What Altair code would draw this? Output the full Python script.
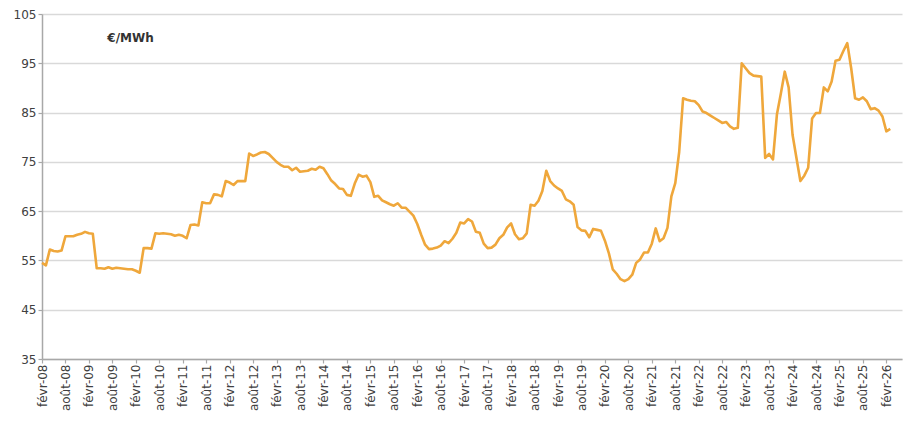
import altair as alt
import pandas as pd

# Monthly prices (€/MWh), from févr-08 to mars-26
p2008 = [54.5, 54.0, 57.2, 56.9, 56.8, 57.0, 59.9, 59.9, 59.9, 60.2, 60.4]
p2009 = [60.8, 60.5, 60.4, 53.4, 53.4, 53.3, 53.6, 53.3, 53.5, 53.4, 53.3, 53.2]
p2010 = [53.2, 52.9, 52.5, 57.5, 57.5, 57.4, 60.5, 60.4, 60.5, 60.4, 60.3, 60.0]
p2011 = [60.2, 60.0, 59.5, 62.2, 62.3, 62.1, 66.8, 66.6, 66.6, 68.4, 68.3, 68.0]
p2012 = [71.1, 70.8, 70.3, 71.1, 71.1, 71.1, 76.7, 76.2, 76.5, 76.9, 77.0, 76.6]
p2013 = [75.8, 75.0, 74.4, 74.0, 74.0, 73.3, 73.8, 73.0, 73.1, 73.2, 73.6, 73.4]
p2014 = [74.0, 73.7, 72.5, 71.2, 70.5, 69.6, 69.5, 68.3, 68.1, 70.6, 72.4, 72.0]
p2015 = [72.2, 70.9, 67.9, 68.1, 67.2, 66.8, 66.4, 66.1, 66.6, 65.7, 65.7, 64.9]
p2016 = [64.1, 62.4, 60.2, 58.2, 57.3, 57.4, 57.6, 58.0, 58.9, 58.5, 59.4, 60.6]
p2017 = [62.7, 62.5, 63.4, 62.9, 60.8, 60.6, 58.4, 57.5, 57.6, 58.2, 59.5, 60.2]
p2018 = [61.7, 62.5, 60.3, 59.3, 59.5, 60.5, 66.3, 66.1, 67.1, 69.1, 73.2, 71.1]
p2019 = [70.2, 69.6, 69.1, 67.4, 67.0, 66.3, 61.8, 61.1, 61.0, 59.7, 61.4, 61.2]
p2020 = [61.0, 59.0, 56.5, 53.2, 52.3, 51.2, 50.8, 51.2, 52.1, 54.5, 55.2, 56.6]
p2021 = [56.6, 58.4, 61.5, 58.9, 59.5, 61.6, 68.0, 70.7, 77.0, 87.9, 87.6, 87.4]
p2022 = [87.3, 86.5, 85.2, 84.9, 84.4, 83.9, 83.4, 82.9, 83.1, 82.2, 81.7, 81.9]
p2023 = [95.0, 94.0, 93.0, 92.5, 92.4, 92.3, 75.8, 76.6, 75.5, 84.6, 88.8, 93.3]
p2024 = [90.1, 80.5, 75.8, 71.1, 72.2, 73.8, 83.8, 84.9, 84.9, 90.1, 89.3, 91.3]
p2025 = [95.5, 95.7, 97.5, 99.1, 94.0, 87.9, 87.6, 88.1, 87.3, 85.7, 85.9, 85.4]
p2026 = [84.2, 81.2, 81.7]

prices = (p2008 + p2009 + p2010 + p2011 + p2012 + p2013 + p2014 + p2015 + p2016
          + p2017 + p2018 + p2019 + p2020 + p2021 + p2022 + p2023 + p2024 + p2025 + p2026)

tick_labels = [
    "févr-08", "août-08", "févr-09", "août-09", "févr-10", "août-10",
    "févr-11", "août-11", "févr-12", "août-12", "févr-13", "août-13",
    "févr-14", "août-14", "févr-15", "août-15", "févr-16", "août-16",
    "févr-17", "août-17", "févr-18", "août-18", "févr-19", "août-19",
    "févr-20", "août-20", "févr-21", "août-21", "févr-22", "août-22",
    "févr-23", "août-23", "févr-24", "août-24", "févr-25", "août-25",
    "févr-26",
]
tick_positions = [6 * i for i in range(len(tick_labels))]
y_ticks = [35, 45, 55, 65, 75, 85, 95, 105]

df = pd.DataFrame({"m": list(range(len(prices))), "price": prices})

label_expr = "[" + ",".join("'%s'" % t for t in tick_labels) + "][round(datum.value / 6)]"

FONT = "DejaVu Sans"
AXIS_GRAY = "#a8a8a8"

chart = alt.Chart(df).mark_line(
    color="#EFA73B", strokeWidth=2.6, strokeJoin="round"
).encode(
    x=alt.X(
        "m:Q",
        scale=alt.Scale(domain=[0, 220], nice=False, zero=False),
        axis=alt.Axis(
            values=tick_positions,
            labelExpr=label_expr,
            labelAngle=270,
            labelAlign="right",
            labelBaseline="middle",
            labelFont=FONT,
            labelFontSize=12,
            labelColor="#404040",
            labelPadding=1,
            labelOverlap=False,
            labelFlush=False,
            labelBound=False,
            grid=False,
            ticks=True,
            tickSize=4,
            tickColor=AXIS_GRAY,
            tickWidth=1.2,
            domainColor=AXIS_GRAY,
            domainWidth=1.5,
            title=None,
        ),
    ),
    y=alt.Y(
        "price:Q",
        scale=alt.Scale(domain=[35, 105], nice=False, zero=False),
        axis=alt.Axis(
            values=y_ticks,
            format="d",
            labelFont=FONT,
            labelFontSize=12,
            labelColor="#404040",
            labelPadding=2,
            grid=True,
            gridColor="#d9d9d9",
            gridWidth=1.5,
            ticks=True,
            tickSize=4,
            tickColor=AXIS_GRAY,
            tickWidth=1.2,
            domainColor=AXIS_GRAY,
            domainWidth=1.5,
            title="€/MWh",
            titleAngle=0,
            titleX=88,
            titleY=23,
            titleAlign="center",
            titleBaseline="middle",
            titleFont=FONT,
            titleFontSize=12,
            titleFontWeight="bold",
            titleColor="#333333",
        ),
    ),
).properties(
    width=860,
    height=345,
    autosize=alt.AutoSizeParams(type="none"),
    padding={"left": 34, "top": 6, "right": 2, "bottom": 56},
    background="white",
).configure_view(stroke=None)

chart.save("out.html", embed_options={"renderer": "svg", "actions": False})
